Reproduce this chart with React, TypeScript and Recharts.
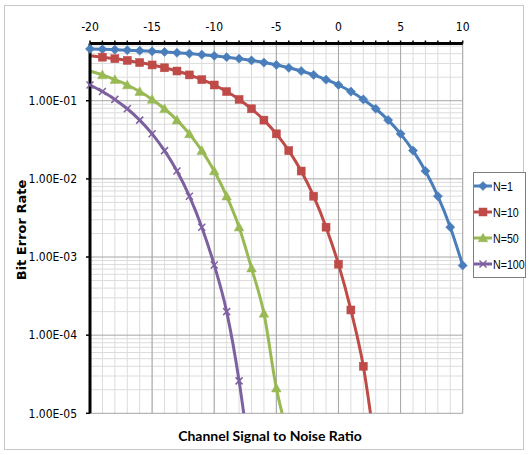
import React from 'react';
import { LineChart, Line, XAxis, YAxis, CartesianGrid } from 'recharts';

const snr = [-20, -19, -18, -17, -16, -15, -14, -13, -12, -11, -10, -9, -8, -7, -6, -5, -4, -3, -2, -1, 0, 1, 2, 3, 4, 5, 6, 7, 8, 9, 10];
const ber1 = [0.46, 0.455, 0.45, 0.444, 0.437, 0.429, 0.421, 0.411, 0.401, 0.389, 0.376, 0.361, 0.345, 0.328, 0.308, 0.287, 0.264, 0.24, 0.214, 0.186, 0.159, 0.131, 0.104, 0.0789, 0.0565, 0.0377, 0.023, 0.0126, 0.006, 0.00241, 0.00078];
const ber10 = [0.376, 0.361, 0.345, 0.328, 0.308, 0.287, 0.264, 0.24, 0.214, 0.186, 0.159, 0.131, 0.104, 0.0789, 0.0565, 0.0377, 0.023, 0.0126, 0.006, 0.00241, 0.00081, 0.00021, 0.00004, 0.0000032];
const ber50 = [0.24, 0.214, 0.186, 0.159, 0.131, 0.104, 0.0789, 0.0565, 0.0377, 0.023, 0.0126, 0.006, 0.00241, 0.00072, 0.00019, 0.000021, 0.0000048];
const ber100 = [0.159, 0.131, 0.104, 0.0789, 0.0565, 0.0377, 0.023, 0.0126, 0.006, 0.00241, 0.00079, 0.0002, 0.000026, 0.0000017];

const xMajorTicks = [-20, -15, -10, -5, 0, 5, 10];
const yTicks = [0.00001, 0.0001, 0.001, 0.01, 0.1];
const yMinorMultipliers = [2, 3, 4, 5, 6, 7, 8, 9];

const seriesNames = ['N=1', 'N=10', 'N=50', 'N=100'];
const colors = ['#4A7EBB', '#BE4B48', '#98B954', '#7D60A0'];

const Y_MIN = 0.00001;
const Y_MAX = 0.54;

const data = snr.map((x, i) => ({
  x,
  n1: ber1[i] ?? null,
  n10: ber10[i] ?? null,
  n50: ber50[i] ?? null,
  n100: ber100[i] ?? null,
}));

const yMinor: number[] = [];
yTicks.forEach((d) => {
  yMinorMultipliers.forEach((m) => {
    const v = d * m;
    if (v < Y_MAX) yMinor.push(v);
  });
});

const fmtY = (v: number) => {
  const e = Math.round(Math.log10(v));
  return `1.00E${e < 0 ? '-' : '+'}${String(Math.abs(e)).padStart(2, '0')}`;
};

type Shape = 'diamond' | 'square' | 'triangle' | 'x';

const Marker = ({ cx, cy, shape, color }: { cx: number; cy: number; shape: Shape; color: string }) => {
  if (shape === 'diamond') {
    const s = 4.6;
    return <polygon points={`${cx},${cy - s} ${cx + s},${cy} ${cx},${cy + s} ${cx - s},${cy}`} fill={color} stroke={color} strokeWidth={0.5} />;
  }
  if (shape === 'square') {
    const s = 4;
    return <rect x={cx - s} y={cy - s} width={2 * s} height={2 * s} fill={color} stroke={color} strokeWidth={0.5} />;
  }
  if (shape === 'triangle') {
    const s = 4.8;
    return <polygon points={`${cx},${cy - s} ${cx + s},${cy + s * 0.8} ${cx - s},${cy + s * 0.8}`} fill={color} stroke={color} strokeWidth={0.5} />;
  }
  const s = 3.5;
  return (
    <g>
      <line x1={cx - s} y1={cy - s} x2={cx + s} y2={cy + s} stroke={color} strokeWidth={1.5} />
      <line x1={cx - s} y1={cy + s} x2={cx + s} y2={cy - s} stroke={color} strokeWidth={1.5} />
    </g>
  );
};

const makeDot = (shape: Shape, color: string, skipFirst: boolean) => (props: any) => {
  const { cx, cy, index, value } = props;
  const key = `dot-${shape}-${index}`;
  const v = Array.isArray(value) ? value[1] : value;
  if (cx == null || cy == null || v == null || isNaN(cy) || v < Y_MIN || (skipFirst && index === 0)) {
    return <g key={key} />;
  }
  return (
    <g key={key}>
      <Marker cx={cx} cy={cy} shape={shape} color={color} />
    </g>
  );
};

const shapes: Shape[] = ['diamond', 'square', 'triangle', 'x'];

const tickFont = '"Liberation Sans Narrow", "Arial Narrow", "DejaVu Sans Condensed", sans-serif';

const LegendBox = () => (
  <div
    style={{
      position: 'absolute',
      left: 473,
      top: 172,
      width: 53,
      height: 106,
      border: '1px solid #7f7f7f',
      background: '#fff',
      boxSizing: 'border-box',
    }}
  >
    {seriesNames.map((name, i) => (
      <div key={name} style={{ display: 'flex', alignItems: 'center', height: 26 }}>
        <svg width={18} height={12} style={{ flex: 'none' }}>
          <line x1={0} y1={6} x2={18} y2={6} stroke={colors[i]} strokeWidth={3} />
          <Marker cx={9} cy={6} shape={shapes[i]} color={colors[i]} />
        </svg>
        <span
          style={{
            display: 'inline-block',
            fontFamily: '"Liberation Sans", Arial, sans-serif',
            fontSize: 13,
            color: '#000',
            whiteSpace: 'nowrap',
            marginLeft: 1,
            transform: 'scaleX(0.82)',
            transformOrigin: 'left center',
            width: 30,
          }}
        >
          {name}
        </span>
      </div>
    ))}
  </div>
);

export default function App() {
  return (
    <div style={{ position: 'absolute', left: 0, top: 0, width: 529, height: 455, background: '#fff' }}>
      <div
        style={{
          position: 'absolute',
          left: 4,
          top: 5,
          width: 520,
          height: 445,
          border: '1px solid #c8c8c8',
          boxSizing: 'border-box',
        }}
      />
      <LineChart
        width={529}
        height={455}
        data={data}
        margin={{ top: 13.5, right: 66.3, bottom: 41.7, left: 30 }}
        style={{ position: 'absolute', left: 0, top: 0 }}
      >
        <CartesianGrid
          stroke="#dcdcdc"
          strokeWidth={1}
          horizontalValues={yMinor}
          verticalValues={snr}
        />
        <CartesianGrid
          stroke="#a6a6a6"
          strokeWidth={1}
          horizontalValues={yTicks}
          verticalValues={xMajorTicks}
        />
        <XAxis
          dataKey="x"
          type="number"
          orientation="top"
          domain={[-20, 10]}
          ticks={snr}
          interval={0}
          height={30}
          tickFormatter={(v: number) => (v % 5 === 0 ? String(v) : '')}
          axisLine={{ stroke: '#000', strokeWidth: 3 }}
          tickLine={{ stroke: '#000', strokeWidth: 1.5 }}
          tickSize={3}
          tickMargin={10}
          tick={{ fontSize: 12, fontFamily: tickFont, fill: '#000' }}
        />
        <YAxis
          scale="log"
          type="number"
          domain={[Y_MIN, Y_MAX]}
          allowDataOverflow
          ticks={yTicks}
          interval={0}
          width={60}
          tickFormatter={fmtY}
          axisLine={{ stroke: '#000', strokeWidth: 3 }}
          tickLine={{ stroke: '#000', strokeWidth: 1.5 }}
          tickSize={4}
          tickMargin={9}
          tick={{ fontSize: 12, fontFamily: tickFont, fill: '#000' }}
        />
        <Line
          dataKey="n1"
          name={seriesNames[0]}
          type="monotone"
          stroke={colors[0]}
          strokeWidth={3}
          dot={makeDot('diamond', colors[0], false)}
          isAnimationActive={false}
          connectNulls={false}
        />
        <Line
          dataKey="n10"
          name={seriesNames[1]}
          type="monotone"
          stroke={colors[1]}
          strokeWidth={3}
          dot={makeDot('square', colors[1], true)}
          isAnimationActive={false}
          connectNulls={false}
        />
        <Line
          dataKey="n50"
          name={seriesNames[2]}
          type="monotone"
          stroke={colors[2]}
          strokeWidth={3}
          dot={makeDot('triangle', colors[2], true)}
          isAnimationActive={false}
          connectNulls={false}
        />
        <Line
          dataKey="n100"
          name={seriesNames[3]}
          type="monotone"
          stroke={colors[3]}
          strokeWidth={3}
          dot={makeDot('x', colors[3], false)}
          isAnimationActive={false}
          connectNulls={false}
        />
      </LineChart>
      <LegendBox />
      <div style={{ position: 'absolute', left: 22, top: 230, width: 0, height: 0 }}>
        <div
          style={{
            position: 'absolute',
            left: 0,
            top: 0,
            transform: 'translate(-50%, -50%) rotate(-90deg)',
            whiteSpace: 'nowrap',
            fontFamily: '"DejaVu Sans", Verdana, sans-serif',
            fontWeight: 'bold',
            fontSize: 13,
            lineHeight: '16px',
            color: '#000',
          }}
        >
          Bit Error Rate
        </div>
      </div>
      <div
        style={{
          position: 'absolute',
          left: 0,
          top: 427,
          width: 540,
          textAlign: 'center',
          fontFamily: 'Lato, "Liberation Sans", sans-serif',
          fontWeight: 'bold',
          fontSize: 14,
          color: '#000',
          whiteSpace: 'nowrap',
        }}
      >
        Channel Signal to Noise Ratio
      </div>
    </div>
  );
}
